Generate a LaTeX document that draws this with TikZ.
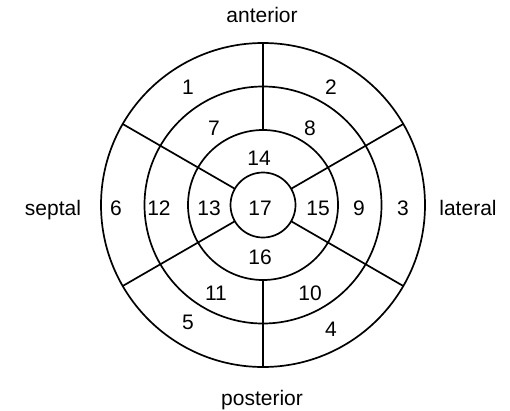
\documentclass[tikz,border=0pt]{standalone}
\usepackage{fontspec}
\setmainfont{Liberation Sans}
\begin{document}
\begin{tikzpicture}[x=1pt,y=-1pt,
  ring/.style={line width=1.7pt,black},
  lbl/.style={font=\fontsize{21}{25}\selectfont,inner sep=0pt,anchor=base}]
\useasboundingbox (0,0) rectangle (510,410);
\coordinate (c) at (263,205);
% circles
\foreach \r in {32.5,75,118.5,162}
  \draw[ring] (c) circle[radius=\r];
% vertical lines
\draw[ring] ([shift={(0,-75)}]c) -- ([shift={(0,-162)}]c);
\draw[ring] ([shift={(0,75)}]c) -- ([shift={(0,162)}]c);
% diagonal lines
\foreach \a in {30,150,210,330}
  \draw[ring] ([shift={(\a:32.5)}]c) -- ([shift={(\a:162)}]c);
% segment numbers (baselines)
\node[lbl] (s1) at (188,94) {1};
\node[lbl] (s2) at (331,94) {2};
\node[lbl] (s7) at (214,135) {7};
\node[lbl] (s8) at (310,135) {8};
\node[lbl] (s14) at (259,165) {14};
\node[lbl] (s6) at (116,215) {6};
\node[lbl] (s12) at (159,215) {12};
\node[lbl] (s13) at (209,215) {13};
\node[lbl] (s17) at (260,215) {17};
\node[lbl] (s15) at (318,215) {15};
\node[lbl] (s9) at (359,215) {9};
\node[lbl] (s3) at (403,215) {3};
\node[lbl] (s16) at (260,264) {16};
\node[lbl] (s11) at (216,300) {11};
\node[lbl] (s10) at (310,300) {10};
\node[lbl] (s5) at (188,329) {5};
\node[lbl] (s4) at (331,336) {4};
% side labels
\node[lbl] (ant) at (262,22) {anterior};
\node[lbl] (sep) at (53,215) {septal};
\node[lbl] (lat) at (468,215) {lateral};
\node[lbl] (pos) at (262,405) {posterior};
\end{tikzpicture}
\end{document}
